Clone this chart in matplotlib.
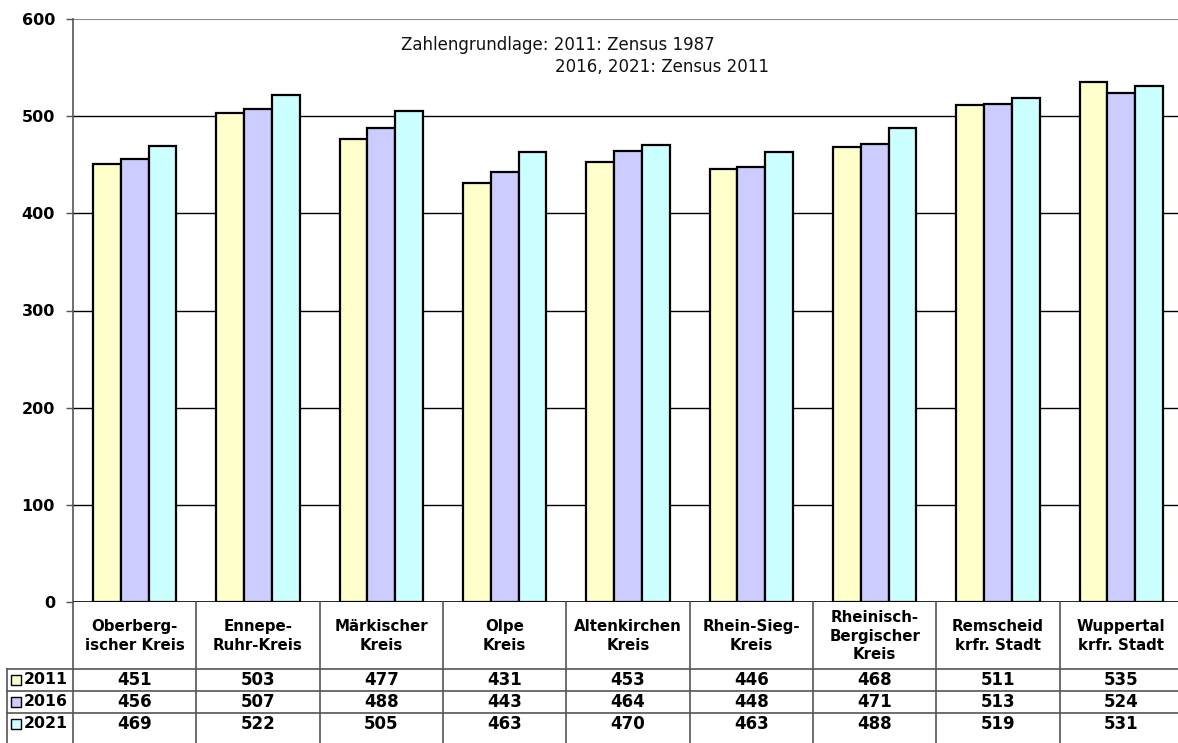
import numpy as np
import matplotlib.pyplot as plt
import matplotlib.transforms as mtransforms
from matplotlib.lines import Line2D
from matplotlib.patches import Rectangle

# Daten
KREISE = ['Oberberg-\nischer Kreis', 'Ennepe-\nRuhr-Kreis', 'Märkischer\nKreis',
          'Olpe\nKreis', 'Altenkirchen\nKreis', 'Rhein-Sieg-\nKreis',
          'Rheinisch-\nBergischer\nKreis', 'Remscheid\nkrfr. Stadt', 'Wuppertal\nkrfr. Stadt']
JAHRE = ['2011', '2016', '2021']
WERTE_2011 = [451, 503, 477, 431, 453, 446, 468, 511, 535]
WERTE_2016 = [456, 507, 488, 443, 464, 448, 471, 513, 524]
WERTE_2021 = [469, 522, 505, 463, 470, 463, 488, 519, 531]
FARBEN = ['#FFFFCC', '#CCCCFF', '#CCFFFF']

W, H = 1178, 743
plt.rcParams['font.family'] = ['DejaVu Sans']

fig = plt.figure(figsize=(W / 100, H / 100), dpi=100)


def fy(py):
    """Pixel-y (von oben) -> Figurkoordinate"""
    return 1 - py / H


def fx(px):
    return px / W


ax = fig.add_axes([fx(73), fy(602), fx(1183) - fx(73), fy(19) - fy(602)])

x = np.arange(len(KREISE))
breite = 0.225
for i, (werte, farbe) in enumerate(zip([WERTE_2011, WERTE_2016, WERTE_2021], FARBEN)):
    ax.bar(x + (i - 1) * breite, werte, breite, color=farbe, edgecolor='black',
           linewidth=1.6, zorder=3)

ax.set_xlim(-0.5, len(KREISE) - 0.5)
ax.set_ylim(0, 600)
ax.set_yticks(range(0, 601, 100))
ax.set_xticks([])
for y in range(100, 600, 100):
    ax.axhline(y, color='black', linewidth=1, zorder=1)
ax.axhline(600, color='#888888', linewidth=1.5, zorder=1)

for s in ['top', 'right', 'bottom']:
    ax.spines[s].set_visible(False)
ax.spines['left'].set_color('#555555')
ax.spines['left'].set_linewidth(1.2)
ax.axhline(0, color='black', linewidth=1.2, zorder=4)
ax.tick_params(axis='y', direction='out', length=5, width=1, color='#555555',
               labelsize=11.5, pad=8)
for lab in ax.get_yticklabels():
    lab.set_fontweight('bold')

# Anmerkung
fig.text(fx(401), fy(45), 'Zahlengrundlage: 2011: Zensus 1987', fontsize=12,
         va='center', ha='left', color='#111111')
fig.text(fx(555), fy(67), '2016, 2021: Zensus 2011', fontsize=12,
         va='center', ha='left', color='#111111')

# Datentabelle
trans = mtransforms.blended_transform_factory(ax.transData, fig.transFigure)
linie = '#555555'

for k in range(len(KREISE) + 1):
    xk = k - 0.5
    fig.add_artist(Line2D([xk, xk], [fy(602), 0], transform=trans, color=linie,
                          linewidth=1.2, clip_on=False))

for py in [669, 691, 713]:
    fig.add_artist(Line2D([fx(7), 1], [fy(py), fy(py)], transform=fig.transFigure,
                          color=linie, linewidth=1.2))
fig.add_artist(Line2D([fx(7), fx(7)], [fy(669), 0], transform=fig.transFigure,
                      color=linie, linewidth=1.2))

for k, name in enumerate(KREISE):
    fig.text(k, fy(636), name, transform=trans, ha='center', va='center',
             fontsize=10.8, fontweight='bold', linespacing=1.3)

zeilen_y = [680, 702, 724]
for jahr, werte, farbe, py in zip(JAHRE, [WERTE_2011, WERTE_2016, WERTE_2021], FARBEN, zeilen_y):
    fig.add_artist(Rectangle((fx(11), fy(py + 5)), fx(10), fy(py - 5) - fy(py + 5),
                             transform=fig.transFigure, facecolor=farbe,
                             edgecolor='black', linewidth=1))
    fig.text(fx(24), fy(py), jahr, ha='left', va='center', fontsize=11.3,
             fontweight='bold')
    for k, v in enumerate(werte):
        fig.text(k, fy(py), str(v), transform=trans, ha='center', va='center',
                 fontsize=12, fontweight='bold')

fig.savefig('out.png', dpi=100)
